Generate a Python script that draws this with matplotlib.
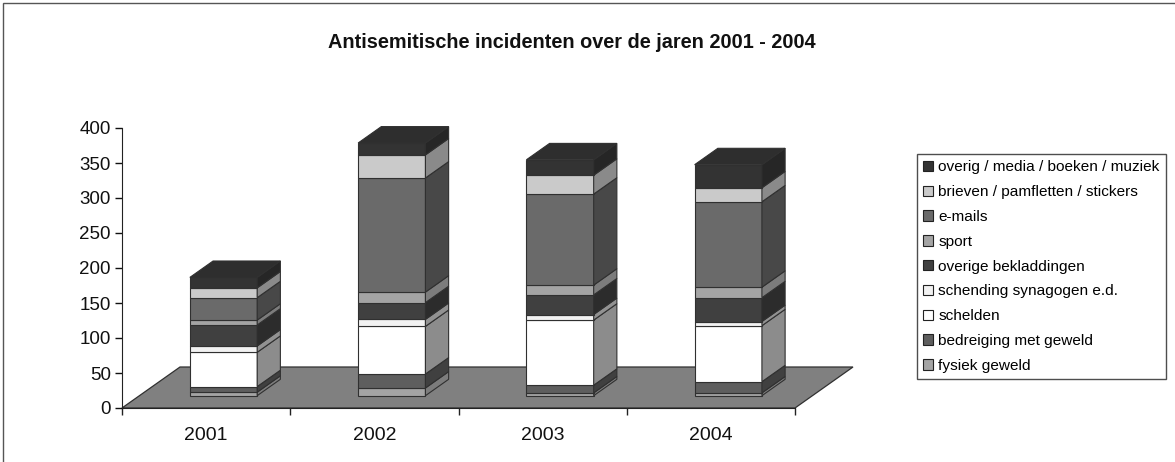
import matplotlib.pyplot as plt
from matplotlib.patches import Polygon, Patch, Rectangle

# data (bottom -> top of each stack)
years = ['2001', '2002', '2003', '2004']
series = ['fysiek geweld', 'bedreiging met geweld', 'schelden',
          'schending synagogen e.d.', 'overige bekladdingen', 'sport',
          'e-mails', 'brieven / pamfletten / stickers',
          'overig / media / boeken / muziek']
fysiek = [5, 11, 4, 4]
bedreiging = [8, 20, 11, 16]
schelden = [49, 68, 93, 80]
schending = [9, 10, 8, 6]
overige_bekladdingen = [30, 24, 28, 34]
sport = [7, 15, 14, 15]
emails = [32, 163, 130, 122]
brieven = [14, 33, 27, 20]
overig = [15, 17, 22, 33]
values = [fysiek, bedreiging, schelden, schending, overige_bekladdingen,
          sport, emails, brieven, overig]

# front / side colours
front_cols = ['#a4a4a4', '#5e5e5e', '#ffffff', '#f2f2f2', '#404040',
              '#a4a4a4', '#6a6a6a', '#cacaca', '#333333']
side_cols = ['#7c7c7c', '#404040', '#8c8c8c', '#929292', '#2c2c2c',
             '#7c7c7c', '#484848', '#8a8a8a', '#262626']
top_col = '#2e2e2e'
edge = '#303030'

plt.rcParams['font.family'] = ['Liberation Sans', 'DejaVu Sans']

fig = plt.figure(figsize=(11.75, 4.62), dpi=100)
W, H = 1175, 462
# axes: x 0..4 -> px 122..795, y 0..400 -> px 408..128
px_per_cat = (795 - 122) / 4
xmax = 4.4
ax = fig.add_axes([122 / W, (H - 408) / H, xmax * px_per_cat / W, 280 / H])
ax.set_xlim(0, xmax)
ax.set_ylim(0, 400)

# oblique depth of the floor in data units
DX = 58 / px_per_cat
DY = 41 / 0.7
d0, d1 = 0.3, 0.7    # bar depth range
bw = 0.4

floor = Polygon([(0, 0), (4, 0), (4 + DX, DY), (DX, DY)], closed=True,
                facecolor='#808080', edgecolor=edge, lw=0.9, clip_on=False, zorder=1)
ax.add_patch(floor)

for i in range(len(years)):
    xl = i + 0.5 - bw / 2 + d0 * DX
    xr = xl + bw
    base = d0 * DY
    bottom = 0
    ddx, ddy = (d1 - d0) * DX, (d1 - d0) * DY
    for s in range(len(series)):
        v = values[s][i]
        y0 = base + bottom
        y1 = y0 + v
        ax.add_patch(Rectangle((xl, y0), bw, v, facecolor=front_cols[s],
                               edgecolor=edge, lw=0.8, clip_on=False, zorder=3))
        ax.add_patch(Polygon([(xr, y0), (xr + ddx, y0 + ddy), (xr + ddx, y1 + ddy), (xr, y1)],
                             closed=True, facecolor=side_cols[s], edgecolor=edge,
                             lw=0.8, clip_on=False, zorder=3))
        bottom += v
    ytop = base + bottom
    ax.add_patch(Polygon([(xl, ytop), (xr, ytop), (xr + ddx, ytop + ddy), (xl + ddx, ytop + ddy)],
                         closed=True, facecolor=top_col, edgecolor=edge, lw=0.8,
                         clip_on=False, zorder=3))

# axes styling
for sp in ['top', 'right']:
    ax.spines[sp].set_visible(False)
ax.spines['left'].set_bounds(0, 400)
ax.spines['bottom'].set_bounds(0, 4)
ax.spines['left'].set_color('#222222')
ax.spines['bottom'].set_color('#222222')
ax.set_yticks(range(0, 401, 50))
ax.tick_params(axis='y', labelsize=13.5, length=5, width=1, pad=3, colors='#111111')
ax.set_xticks(range(0, 5))
ax.set_xticklabels([])
ax.set_xticks([i + 0.5 for i in range(4)], minor=True)
ax.set_xticklabels(years, minor=True)
ax.tick_params(axis='x', which='major', length=5, width=1, colors='#222222')
ax.tick_params(axis='x', which='minor', length=0, labelsize=14, pad=14, colors='#111111')
ax.patch.set_visible(False)

fig.text(572 / W, 1 - 42 / H, 'Antisemitische incidenten over de jaren 2001 - 2004',
         ha='center', va='center', fontsize=14.3, fontweight='bold', color='#111111')

handles = [Patch(facecolor=front_cols[s], edgecolor='#222222', lw=0.8, label=series[s])
           for s in range(len(series))][::-1]
leg = fig.legend(handles=handles, loc='upper left',
                 bbox_to_anchor=(917 / W, 1 - 154 / H), fontsize=11.1,
                 frameon=True, fancybox=False, handlelength=0.65, handleheight=0.65,
                 handletextpad=0.3, labelspacing=0.7, borderpad=0.42, borderaxespad=0)
leg.get_frame().set_edgecolor('#222222')
leg.get_frame().set_linewidth(1)

# outer frame of the chart area
fig.patches.append(Rectangle((3 / W, -0.1), 1.2, 1 - 3 / H + 0.1, transform=fig.transFigure,
                             fill=False, edgecolor='#555555', lw=1))

fig.savefig('out.png', dpi=100)
